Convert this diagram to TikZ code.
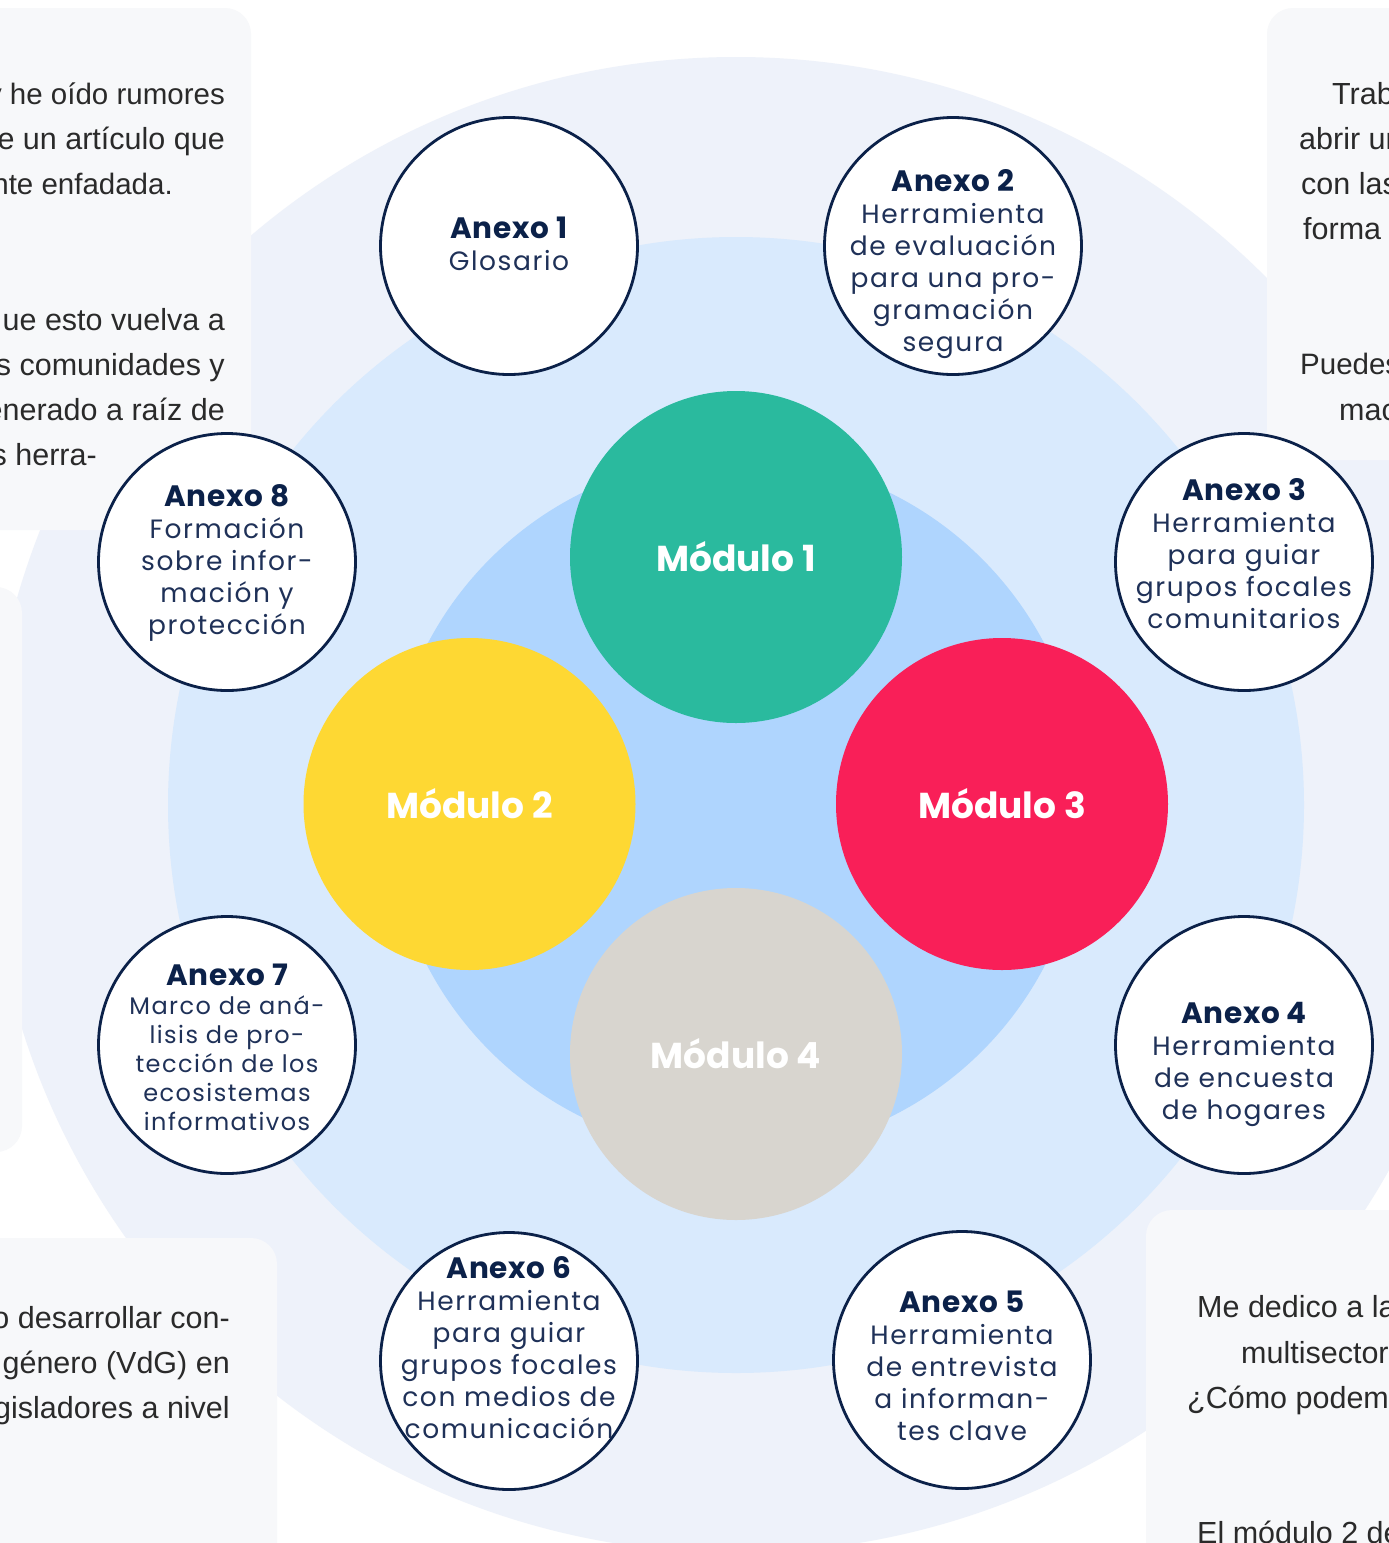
\documentclass[tikz,border=0pt]{standalone}
\usepackage{fontspec}
\setmainfont{Poppins}
\newfontfamily\anbody[LetterSpace=6]{Poppins}
\newfontfamily\anheadf[LetterSpace=2.5]{Poppins}
\newfontfamily\boxfont{Liberation Sans}
\definecolor{palec}{HTML}{EEF2FA}
\definecolor{lbluec}{HTML}{D9EAFD}
\definecolor{ibluec}{HTML}{AFD5FE}
\definecolor{boxc}{HTML}{F7F8FA}
\definecolor{navyc}{HTML}{0B2149}
\definecolor{bodyc}{HTML}{1F3158}
\definecolor{tealc}{HTML}{2ABA9E}
\definecolor{yellowc}{HTML}{FED833}
\definecolor{redc}{HTML}{F91F58}
\definecolor{greyc}{HTML}{D8D5CF}
\definecolor{txtc}{HTML}{2A2A2A}
\tikzset{
  panel/.style={fill=boxc, rounded corners=26pt},
  modc/.style={circle, minimum size=332pt, inner sep=0pt, text=white,
    font=\bfseries\fontsize{36}{40}\selectfont},
  anexoc/.style={circle, minimum size=257pt, inner sep=0pt, draw=navyc,
    line width=2.8pt, fill=white},
  anexot/.style={align=center, text=bodyc, inner sep=0pt,
    font=\anbody\fontsize{26.5}{32}\selectfont},
  boxt/.style={text=txtc, inner sep=0pt, font=\boxfont\fontsize{30.5}{34}\selectfont},
  boxtn/.style={boxt, font=\boxfont\fontsize{29.5}{34}\selectfont},
}
\newcommand{\anhead}[1]{{\anheadf\bfseries\color{navyc}\fontsize{29.5}{32}\selectfont #1}}
\begin{document}
\begin{tikzpicture}[x=1pt,y=-1pt]
\useasboundingbox (0,0) rectangle (1389,1543);
\begin{scope}
\clip (0,0) rectangle (1389,1543);
\fill[white] (0,0) rectangle (1389,1543);
\fill[palec] (736,805) circle[radius=748];
% side panels
\fill[panel] (-60,8) rectangle (251,530);
\fill[panel] (1267,8) rectangle (1450,460);
\fill[panel] (-60,587) rectangle (22,1152);
\fill[panel] (-60,1238) rectangle (277,1620);
\fill[panel] (1146,1210) rectangle (1450,1620);
% panel texts
\node[boxtn, anchor=base east] (t1) at (225,104) {y he oído rumores};
\node[boxt, anchor=base east] (t2) at (225,149) {e un artículo que};
\node[boxtn, anchor=base east] (t3) at (173,194) {nte enfadada.};
\node[boxt, anchor=base east] (t4) at (225,330) {ue esto vuelva a};
\node[boxt, anchor=base east] (t5) at (225,375) {s comunidades y};
\node[boxt, anchor=base east] (t6) at (225,420) {enerado a raíz de};
\node[boxt, anchor=base east] (t7) at (97,465) {s herra-};
\node[boxt, anchor=base east] (b1) at (230,1328) {o desarrollar con-};
\node[boxt, anchor=base east] (b2) at (230,1373) {género (VdG) en};
\node[boxt, anchor=base east] (b3) at (230,1418) {gisladores a nivel};
\node[boxt, anchor=base west] (r1) at (1332,104) {Trabajo};
\node[boxt, anchor=base west] (r2) at (1299,149) {abrir un};
\node[boxt, anchor=base west] (r3) at (1301,194) {con las};
\node[boxt, anchor=base west] (r4) at (1303,239) {forma de};
\node[boxtn, anchor=base west] (r5) at (1300,374) {Puedes};
\node[boxt, anchor=base west] (r6) at (1339,420) {mac};
\node[boxt, anchor=base west] (s1) at (1197,1317) {Me dedico a la};
\node[boxt, anchor=base west] (s2) at (1241,1363) {multisector};
\node[boxt, anchor=base west] (s3) at (1187,1408) {¿Cómo podemo};
\node[boxt, anchor=base west] (s4) at (1197,1543) {El módulo 2 de};
% rings
\fill[lbluec] (736,805) circle[radius=568];
\fill[ibluec] (736,805) circle[radius=348];
% modules
\node[modc, fill=tealc] (m1) at (736,557) {Módulo 1};
\node[modc, fill=yellowc] (m2) at (469.5,804) {Módulo 2};
\node[modc, fill=redc] (m3) at (1002,804) {Módulo 3};
\node[modc, fill=greyc] (m4) at (736,1054) {Módulo 4};
% annexes
\node[anexoc] (a1) at (509,246) {};
\node[anexoc] (a2) at (953,246) {};
\node[anexoc] (a3) at (1244,562) {};
\node[anexoc] (a4) at (1244,1045) {};
\node[anexoc] (a5) at (962,1360) {};
\node[anexoc] (a6) at (509,1361) {};
\node[anexoc] (a7) at (227,1045) {};
\node[anexoc] (a8) at (227,562) {};
\node[anexot] (a1t) at (509,244) {\anhead{Anexo 1}\\Glosario};
\node[anexot] (a2t) at (953,264) {\anhead{Anexo 2}\\Herramienta\\de evaluación\\para una pro-\\gramación\\segura};
\node[anexot] (a3t) at (1244,554) {\anhead{Anexo 3}\\Herramienta\\para guiar\\grupos focales\\comunitarios};
\node[anexot] (a4t) at (1244,1064) {\anhead{Anexo 4}\\Herramienta\\de encuesta\\de hogares};
\node[anexot] (a5t) at (962,1366) {\anhead{Anexo 5}\\Herramienta\\de entrevista\\a informan-\\tes clave};
\node[anexot] (a6t) at (509,1348) {\anhead{Anexo 6}\\Herramienta\\para guiar\\grupos focales\\con medios de\\comunicación};
\node[anexot, font=\anbody\fontsize{24}{29}\selectfont] (a7t) at (227,1047) {\anhead{Anexo 7}\\Marco de aná-\\lisis de pro-\\tección de los\\ecosistemas\\informativos};
\node[anexot] (a8t) at (227,563) {\anhead{Anexo 8}\\Formación\\sobre infor-\\mación y\\protección};
\end{scope}
\end{tikzpicture}
\end{document}
